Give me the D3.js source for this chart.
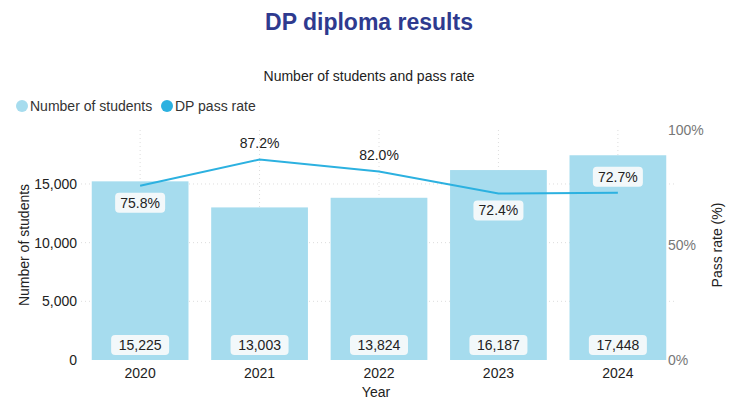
<!DOCTYPE html>
<html><head><meta charset="utf-8">
<script src="https://cdn.jsdelivr.net/npm/d3@7"></script>
<style>body{margin:0;background:#fff;font-family:Arial,"Liberation Sans",sans-serif;}</style>
</head><body><div id="chart"></div>
<script>
const years = ["2020", "2021", "2022", "2023", "2024"];
const students = [15225, 13003, 13824, 16187, 17448];
const passRate = [75.8, 87.2, 82.0, 72.4, 72.7];
const rateLabelPos = ["below", "above", "above", "below", "above"];
const leftTicks = [0, 5000, 10000, 15000];
const rightTicks = [0, 50, 100];

const barColor = "#a6dcee", lineColor = "#2cb1e0";
const W = 738, H = 406;
const svg = d3.select("#chart").append("svg").attr("width", W).attr("height", H);

svg.append("text").attr("x", 369).attr("y", 30).attr("text-anchor", "middle")
    .attr("font-size", 23).attr("font-weight", "bold").attr("fill", "#2e3a8f").text("DP diploma results");
svg.append("text").attr("x", 369).attr("y", 81).attr("text-anchor", "middle")
    .attr("font-size", 14).attr("fill", "#222").text("Number of students and pass rate");

// legend
const legend = [["Number of students", barColor, 22], ["DP pass rate", lineColor, 167]];
legend.forEach(([t, c, x]) => {
    svg.append("circle").attr("cx", x).attr("cy", 106).attr("r", 6).attr("fill", c);
    svg.append("text").attr("x", x + 8).attr("y", 111).attr("font-size", 14).attr("fill", "#333").text(t);
});

const x = d3.scaleBand().domain(years).range([81, 677]).paddingInner(0.19).paddingOuter(0.09);
const yL = d3.scaleLinear().domain([0, 19600]).range([360, 130]);
const yR = d3.scaleLinear().domain([0, 100]).range([360, 130]);
const cx = d => x(d) + x.bandwidth() / 2;

// grid
svg.append("g").selectAll("line").data(leftTicks.slice(1)).join("line")
    .attr("x1", 81).attr("x2", 677).attr("y1", d => yL(d)).attr("y2", d => yL(d))
    .attr("stroke", "#ddd").attr("stroke-dasharray", "1,3");
svg.append("g").selectAll("line").data(years).join("line")
    .attr("x1", cx).attr("x2", cx).attr("y1", 130).attr("y2", 360)
    .attr("stroke", "#ddd").attr("stroke-dasharray", "1,3");

// bars
svg.append("g").selectAll("rect").data(students).join("rect")
    .attr("x", (d, i) => x(years[i])).attr("width", x.bandwidth())
    .attr("y", d => yL(d)).attr("height", d => 360 - yL(d)).attr("fill", barColor);

// axes
const axL = svg.append("g").attr("transform", "translate(81,0)")
    .call(d3.axisLeft(yL).tickValues(leftTicks).tickSize(0).tickPadding(0).tickFormat(d3.format(",")));
const axR = svg.append("g").attr("transform", "translate(668,0)")
    .call(d3.axisRight(yR).tickValues(rightTicks).tickSize(0).tickPadding(0).tickFormat(d => d + "%"));
const axX = svg.append("g").attr("transform", "translate(0,360)")
    .call(d3.axisBottom(x).tickSize(0).tickPadding(8));
[axL, axR, axX].forEach(a => {
    a.select(".domain").remove();
    a.selectAll("text").attr("font-size", 14).attr("fill", "#222").attr("font-family", "Arial,'Liberation Sans',sans-serif");
});
axL.selectAll("text").attr("dx", -4);
axR.selectAll("text").attr("fill", "#777");

svg.append("text").attr("transform", "translate(29,245) rotate(-90)").attr("text-anchor", "middle")
    .attr("font-size", 14).attr("fill", "#222").text("Number of students");
svg.append("text").attr("transform", "translate(722,245) rotate(-90)").attr("text-anchor", "middle")
    .attr("font-size", 14).attr("fill", "#222").text("Pass rate (%)");
svg.append("text").attr("x", 376).attr("y", 397).attr("text-anchor", "middle")
    .attr("font-size", 14).attr("fill", "#222").text("Year");

// line
svg.append("path").datum(passRate)
    .attr("d", d3.line().x((d, i) => cx(years[i])).y(d => yR(d)))
    .attr("fill", "none").attr("stroke", lineColor).attr("stroke-width", 2);

function label(txt, xc, yc, boxed) {
    const w = txt.length * 8 + 10;
    if (boxed) svg.append("rect").attr("x", xc - w / 2).attr("y", yc - 10).attr("width", w).attr("height", 20)
        .attr("rx", 4).attr("fill", "#f2f8fa");
    svg.append("text").attr("x", xc).attr("y", yc + 5).attr("text-anchor", "middle")
        .attr("font-size", 14).attr("fill", "#222").text(txt);
}
students.forEach((d, i) => label(d3.format(",")(d), cx(years[i]), 345, true));
passRate.forEach((d, i) => {
    const yy = yR(d) + (rateLabelPos[i] === "below" ? 17 : -16);
    label(d.toFixed(1) + "%", cx(years[i]), yy, !(i === 1 || i === 2));
});
</script></body></html>
